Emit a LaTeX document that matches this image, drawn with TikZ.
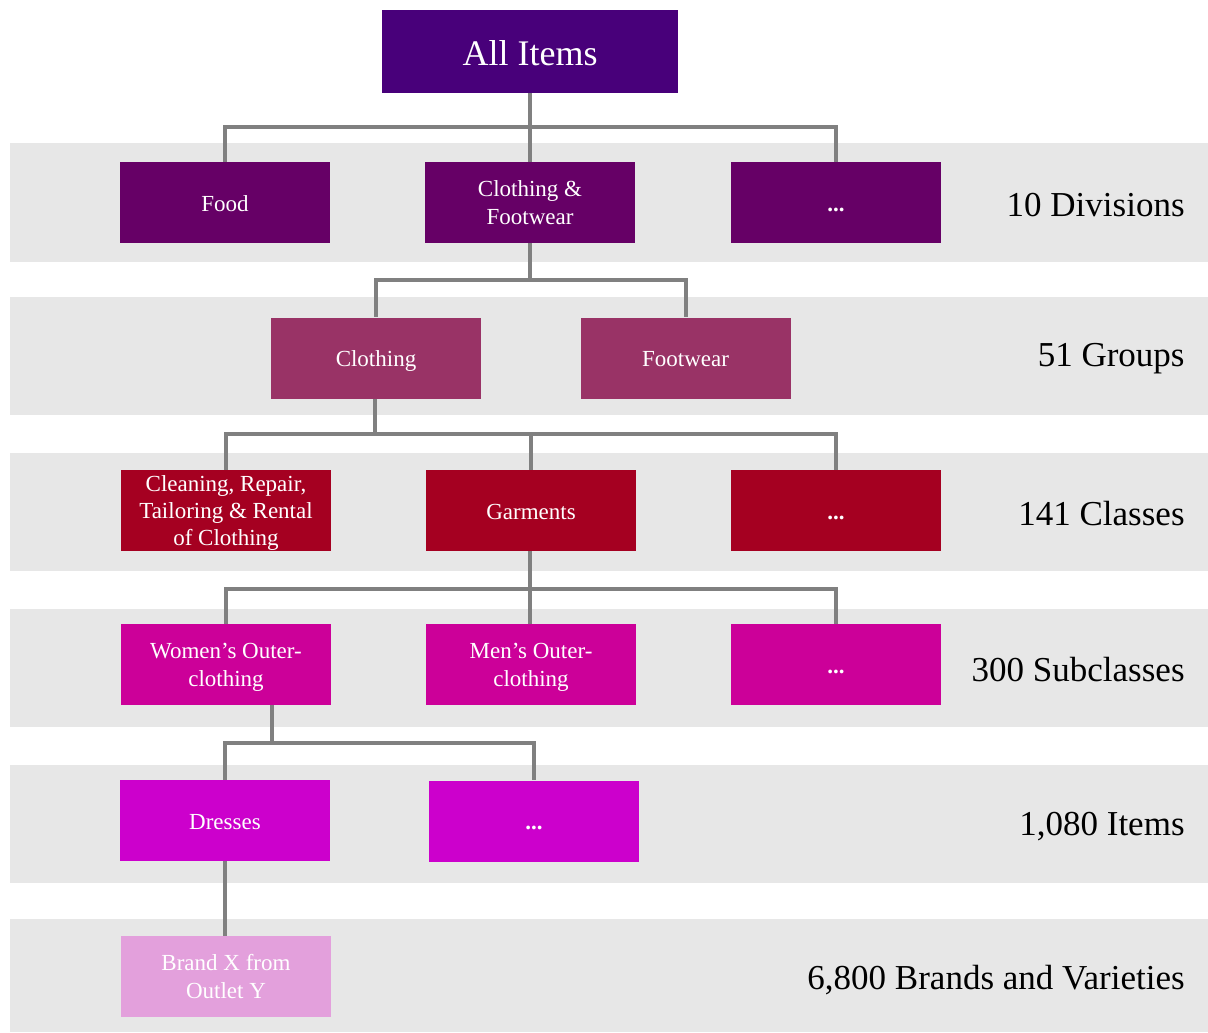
\documentclass[tikz,border=0pt]{standalone}
\usepackage{fontspec}
\setmainfont{Liberation Serif}
\usepackage{tikz}

\definecolor{topc}{HTML}{48007A}
\definecolor{divc}{HTML}{660066}
\definecolor{grpc}{HTML}{993366}
\definecolor{clsc}{HTML}{A50021}
\definecolor{subc}{HTML}{CC0099}
\definecolor{itmc}{HTML}{CC00CC}
\definecolor{brdc}{HTML}{E3A0DC}
\definecolor{bandgray}{HTML}{E7E7E7}
\definecolor{linkgray}{HTML}{808080}

\begin{document}
\begin{tikzpicture}[x=0.5pt,y=-0.5pt,
  plainbox/.style={rectangle,inner sep=0pt,minimum width=105pt,minimum height=40.5pt,
    text=white,align=center,font=\fontsize{11.5}{14}\selectfont},
  box/.style={plainbox,
    execute at begin node={\rule{0pt}{12.8pt}},execute at end node=\strut},
  two/.style={execute at begin node={\rule{0pt}{26pt}}},
  three/.style={plainbox,font=\fontsize{11.5}{13.5}\selectfont,
    execute at begin node={\rule{0pt}{37.3pt}},
    execute at end node={\rule[-2.5pt]{0pt}{2.5pt}}},
  link/.style={draw=linkgray,line width=2pt},
  band/.style={fill=bandgray},
  level/.style={anchor=east,inner sep=0pt,font=\fontsize{17.5}{21}\selectfont}]
  \useasboundingbox
    (0,0)
    rectangle
    (1208,1032);
  \fill[band]
    (10,143)
    rectangle
    (1208,262);
  \fill[band]
    (10,297)
    rectangle
    (1208,415);
  \fill[band]
    (10,453)
    rectangle
    (1208,571);
  \fill[band]
    (10,609)
    rectangle
    (1208,727);
  \fill[band]
    (10,765)
    rectangle
    (1208,883);
  \fill[band]
    (10,919)
    rectangle
    (1208,1032);
  \coordinate (u1) at (530,127);
  \coordinate (u2) at (530,280);
  \coordinate (u3) at (375,434);
  \coordinate (u4) at (530,589);
  \coordinate (u5) at (272,743);
  \node[box,fill=topc,minimum width=148pt,minimum height=41.5pt,
    font=\fontsize{18}{21}\selectfont,
    execute at begin node={\rule{0pt}{20.7pt}}]
    (a0) at (530,51.5) {All Items};
  \node[box,fill=divc] (d1) at (225,202.5) {Food};
  \node[box,two,fill=divc] (d2) at (530,202.5) {Clothing \&\\Footwear};
  \node[box,fill=divc] (d3) at (836,202.5) {\textbf{...}};
  \node[box,fill=grpc] (g1) at (376,358) {Clothing};
  \node[box,fill=grpc] (g2) at (685.5,358) {Footwear};
  \node[three,fill=clsc] (c1) at (226,510.5) {Cleaning, Repair,\\Tailoring \& Rental\\of Clothing};
  \node[box,fill=clsc] (c2) at (531,510.5) {Garments};
  \node[box,fill=clsc] (c3) at (836,510.5) {\textbf{...}};
  \node[box,two,fill=subc] (s1) at (226,664.5) {Women’s Outer-\\clothing};
  \node[box,two,fill=subc] (s2) at (531,664.5) {Men’s Outer-\\clothing};
  \node[box,fill=subc] (s3) at (836,664.5) {\textbf{...}};
  \node[box,fill=itmc] (i1) at (225,820.5) {Dresses};
  \node[box,fill=itmc] (i2) at (534,821) {\textbf{...}};
  \node[box,two,fill=brdc] (b1) at (226,976.5) {Brand X from\\Outlet Y};
  \draw[link]
    (a0.south)
    --
    (u1);
  \draw[link]
    (u1)
    -|
    (d1.north);
  \draw[link]
    (u1)
    --
    (d2.north -| u1);
  \draw[link]
    (u1)
    -|
    (d3.north);
  \draw[link]
    (d2.south)
    --
    (u2);
  \draw[link]
    (u2)
    -|
    (g1.north);
  \draw[link]
    (u2)
    -|
    (g2.north);
  \draw[link]
    (g1.south -| u3)
    --
    (u3);
  \draw[link]
    (u3)
    -|
    (c1.north);
  \draw[link]
    (u3)
    -|
    (c2.north);
  \draw[link]
    (u3)
    -|
    (c3.north);
  \draw[link]
    (c2.south -| u4)
    --
    (u4);
  \draw[link]
    (u4)
    -|
    (s1.north);
  \draw[link]
    (u4)
    --
    (s2.north -| u4);
  \draw[link]
    (u4)
    -|
    (s3.north);
  \draw[link]
    (s1.south -| u5)
    --
    (u5);
  \draw[link]
    (u5)
    -|
    (i1.north);
  \draw[link]
    (u5)
    -|
    (i2.north);
  \draw[link]
    (i1.south)
    --
    (b1.north -| i1.south);
  \node[level] (l1) at (1185,205) {10 Divisions};
  \node[level] (l2) at (1185,359) {51 Groups};
  \node[level] (l3) at (1185,514) {141 Classes};
  \node[level] (l4) at (1185,670) {300 Subclasses};
  \node[level] (l5) at (1185,827) {1,080 Items};
  \node[level] (l6) at (1185,980) {6,800 Brands and Varieties};
\end{tikzpicture}
\end{document}
